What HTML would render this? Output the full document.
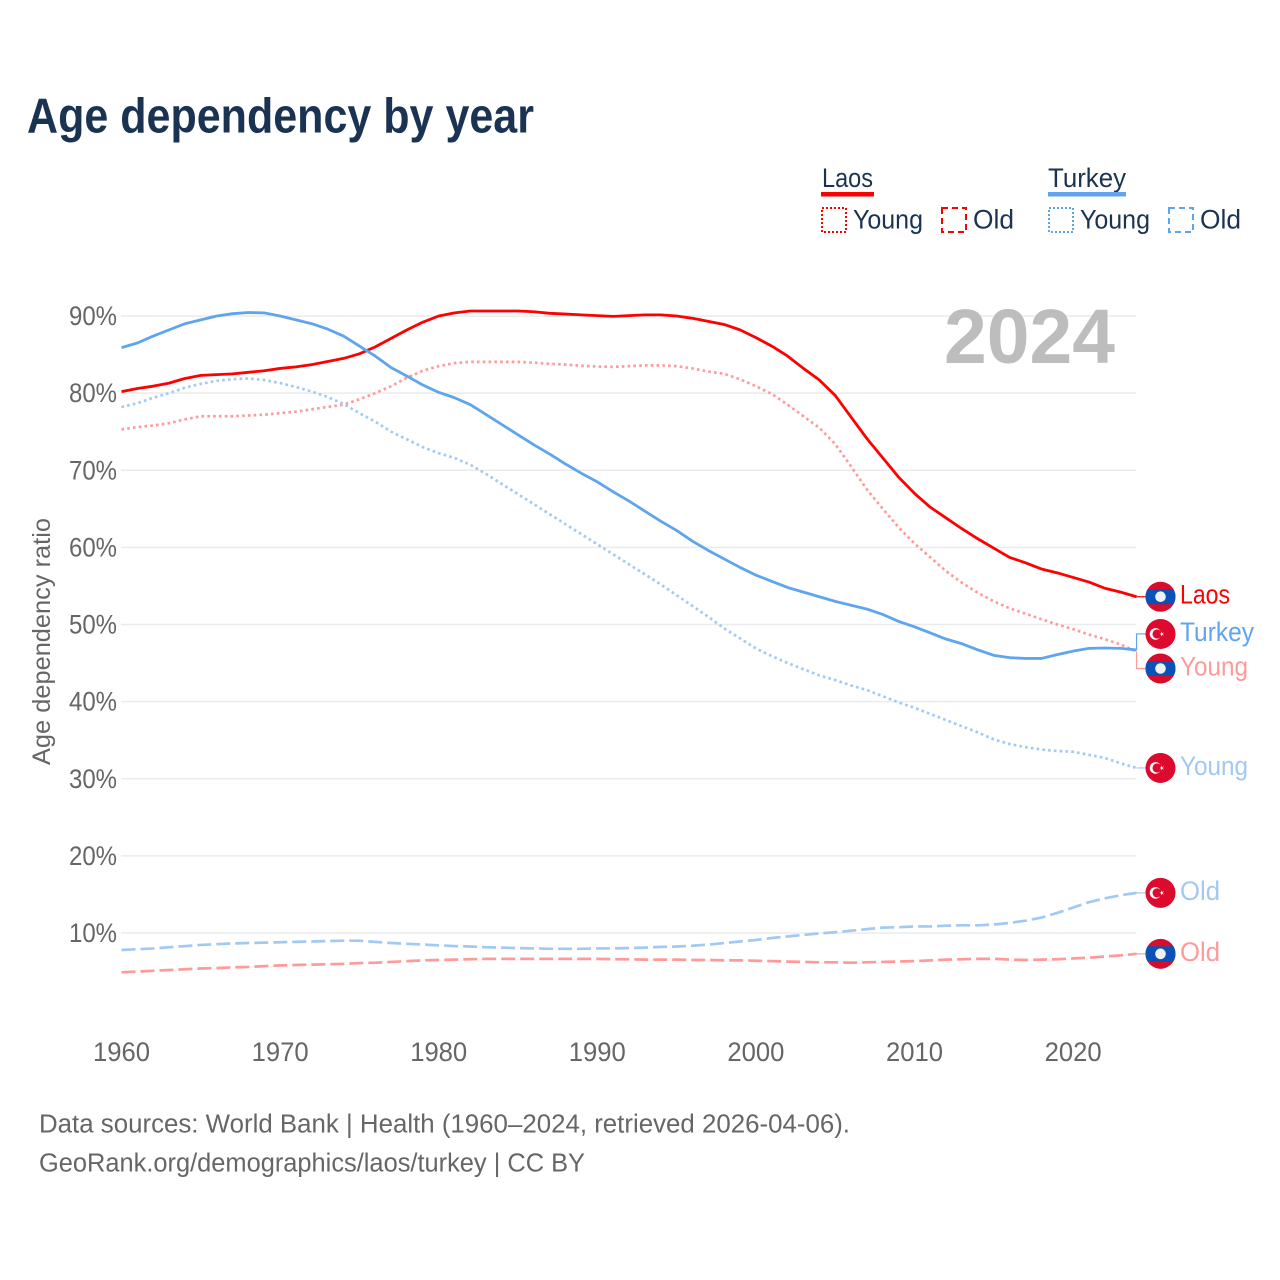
<!DOCTYPE html>
<html lang="en">
<head>
<meta charset="utf-8">
<title>Age dependency by year</title>
<style>
html,body{margin:0;padding:0;background:#fff;}
svg{display:block;font-family:"Liberation Sans",Arial,sans-serif;}
</style>
</head>
<body>
<svg id="chart" xmlns="http://www.w3.org/2000/svg" width="1280" height="1280" viewBox="0 0 1280 1280">
  <rect x="0" y="0" width="1280" height="1280" fill="#ffffff"/>
  <text x="27" y="132.5" font-size="49" font-weight="700" fill="#1a3352" textLength="507" lengthAdjust="spacingAndGlyphs">Age dependency by year</text>

  <g id="grid"></g>
  <text x="944" y="363" font-size="77" font-weight="700" fill="#bdbdbd" textLength="171" lengthAdjust="spacingAndGlyphs">2024</text>
  <g id="yticks"></g>
  <g id="xticks"></g>
  <text transform="translate(50 765) rotate(-90)" font-size="25" fill="#666666" textLength="247" lengthAdjust="spacingAndGlyphs">Age dependency ratio</text>

  <g id="series"></g>
  <g id="endlabels"></g>

  <g fill="#1a3352" font-size="26.5">
    <g>
      <text x="822" y="187" textLength="51" lengthAdjust="spacingAndGlyphs">Laos</text>
      <rect x="821" y="192" width="53" height="4.5" fill="#ff0000"/>
      <rect x="822" y="208" width="24" height="24" fill="none" stroke="#ff0000" stroke-width="2" stroke-dasharray="2 2"/>
      <text x="853" y="228.5" textLength="70" lengthAdjust="spacingAndGlyphs">Young</text>
      <rect x="942" y="208" width="24" height="24" fill="none" stroke="#ff0000" stroke-width="2" stroke-dasharray="6 4"/>
      <text x="973" y="228.5" textLength="41" lengthAdjust="spacingAndGlyphs">Old</text>
    </g>
    <g>
      <text x="1048" y="187" textLength="78" lengthAdjust="spacingAndGlyphs">Turkey</text>
      <rect x="1048" y="192" width="78" height="4.5" fill="#5fa5ee"/>
      <rect x="1049" y="208" width="24" height="24" fill="none" stroke="#5fa5ee" stroke-width="2" stroke-dasharray="2 2"/>
      <text x="1080" y="228.5" textLength="70" lengthAdjust="spacingAndGlyphs">Young</text>
      <rect x="1169" y="208" width="24" height="24" fill="none" stroke="#5fa5ee" stroke-width="2" stroke-dasharray="6 4"/>
      <text x="1200" y="228.5" textLength="41" lengthAdjust="spacingAndGlyphs">Old</text>
    </g>
  </g>

  <text x="39" y="1132.5" font-size="25.5" fill="#666666" textLength="811" lengthAdjust="spacingAndGlyphs">Data sources: World Bank | Health (1960–2024, retrieved 2026-04-06).</text>
  <text x="39" y="1171.5" font-size="25.5" fill="#666666" textLength="546" lengthAdjust="spacingAndGlyphs">GeoRank.org/demographics/laos/turkey | CC BY</text>
</svg>

<script>
const startYear = 1960;
const xTickYears = [1960, 1970, 1980, 1990, 2000, 2010, 2020];
const yTickValues = [10, 20, 30, 40, 50, 60, 70, 80, 90];

const laosTotal = [
  80.2,80.6,80.9,81.3,81.9,82.3,82.4,82.5,82.7,82.9,
  83.2,83.4,83.7,84.1,84.5,85.1,86.0,87.1,88.2,89.2,
  90.0,90.4,90.65,90.65,90.65,90.65,90.55,90.35,90.25,90.15,
  90.05,89.95,90.05,90.15,90.15,90.0,89.7,89.3,88.9,88.2,
  87.2,86.1,84.8,83.2,81.7,79.7,76.9,74.1,71.6,69.1,
  67.0,65.2,63.8,62.4,61.1,59.9,58.7,58.0,57.2,56.7,
  56.1,55.5,54.7,54.2,53.6];
const laosYoung = [
  75.3,75.6,75.8,76.1,76.6,77.0,77.0,77.0,77.1,77.2,
  77.4,77.6,77.9,78.2,78.5,79.2,80.0,80.9,82.0,82.9,
  83.5,83.9,84.05,84.05,84.05,84.05,83.95,83.8,83.7,83.55,
  83.45,83.4,83.5,83.6,83.6,83.5,83.2,82.8,82.5,81.8,
  80.9,79.9,78.5,77.0,75.5,73.4,70.5,67.5,65.0,62.6,
  60.5,58.7,56.9,55.4,54.1,53.0,52.1,51.4,50.7,50.0,
  49.4,48.7,48.1,47.4,46.5];
const laosOld = [
  4.9,5.0,5.1,5.2,5.3,5.4,5.45,5.55,5.6,5.7,
  5.8,5.85,5.9,5.95,6.0,6.1,6.15,6.25,6.35,6.45,
  6.5,6.55,6.6,6.65,6.65,6.65,6.65,6.65,6.65,6.65,
  6.65,6.6,6.6,6.55,6.55,6.55,6.5,6.5,6.45,6.45,
  6.4,6.35,6.3,6.25,6.2,6.2,6.15,6.2,6.25,6.3,
  6.35,6.45,6.55,6.6,6.65,6.65,6.55,6.5,6.55,6.6,
  6.7,6.8,6.95,7.1,7.3];
const turkeyTotal = [
  85.9,86.5,87.4,88.2,89.0,89.5,90.0,90.3,90.45,90.4,
  90.0,89.5,89.0,88.3,87.4,86.1,84.8,83.3,82.2,81.05,
  80.1,79.4,78.5,77.2,75.9,74.6,73.3,72.1,70.8,69.6,
  68.5,67.2,66.0,64.7,63.4,62.2,60.8,59.6,58.5,57.4,
  56.4,55.6,54.8,54.2,53.6,53.0,52.5,52.0,51.3,50.4,
  49.7,48.9,48.1,47.5,46.7,46.0,45.7,45.6,45.6,46.1,
  46.55,46.9,46.95,46.9,46.7];
const turkeyYoung = [
  78.2,78.7,79.4,80.0,80.7,81.2,81.6,81.8,81.9,81.7,
  81.3,80.8,80.2,79.5,78.6,77.4,76.3,75.0,74.0,73.0,
  72.2,71.6,70.7,69.5,68.2,66.9,65.6,64.3,63.0,61.7,
  60.4,59.1,57.8,56.5,55.2,53.8,52.4,51.0,49.5,48.2,
  46.9,45.9,45.0,44.2,43.4,42.8,42.1,41.5,40.7,39.9,
  39.2,38.4,37.6,36.8,36.0,35.1,34.5,34.1,33.8,33.6,
  33.5,33.1,32.7,32.0,31.4];
const turkeyOld = [
  7.8,7.9,8.0,8.15,8.3,8.45,8.55,8.65,8.7,8.75,
  8.8,8.85,8.9,8.95,9.0,9.0,8.85,8.7,8.6,8.5,
  8.4,8.3,8.25,8.15,8.1,8.05,8.0,7.95,7.95,7.95,
  8.0,8.0,8.05,8.1,8.2,8.25,8.35,8.5,8.7,8.9,
  9.1,9.35,9.55,9.75,9.95,10.1,10.3,10.5,10.7,10.75,
  10.85,10.85,10.95,11.0,11.0,11.1,11.3,11.6,12.0,12.6,
  13.3,14.0,14.5,14.9,15.2];

/* axis functions */
function xScale(year) { return 121.5 + (year - 1960) * 15.86; }
function yScale(v) { return 316 + (90 - v) * 7.7125; }

const NS = 'http://www.w3.org/2000/svg';
function make(tag, attrs, parent) {
  const el = document.createElementNS(NS, tag);
  for (const k in attrs) el.setAttribute(k, attrs[k]);
  parent.appendChild(el);
  return el;
}

const gridG = document.getElementById('grid');
const yG = document.getElementById('yticks');
const xG = document.getElementById('xticks');
const seriesG = document.getElementById('series');
const labelsG = document.getElementById('endlabels');

yTickValues.forEach(function (v) {
  const line = make('line', {x1: 121, x2: 1136, y1: yScale(v), y2: yScale(v), stroke: '#ebebeb', 'stroke-width': 1.5}, gridG);
  
  
  const t = make('text', {x: 69, y: yScale(v) + 9, 'font-size': 26.5, fill: '#666666', textLength: 48, lengthAdjust: 'spacingAndGlyphs'}, yG);
  t.textContent = v + '%';
  
  
});

xTickYears.forEach(function (yr) {
  const t = make('text', {x: xScale(yr) - 28.5, y: 1061, 'font-size': 26.5, fill: '#666666', textLength: 57, lengthAdjust: 'spacingAndGlyphs'}, xG);
  t.textContent = String(yr);
  
  
});

function drawLine(values, name, color, width, dash) {
  const d = values.map(function (v, i) {
    return (i ? 'L' : 'M') + xScale(startYear + i).toFixed(2) + ' ' + yScale(v).toFixed(2);
  }).join(' ');
  const p = make('path', {d: d, fill: 'none', stroke: color, 'stroke-width': width, 'stroke-linejoin': 'round'}, seriesG);
  if (dash) p.setAttribute('stroke-dasharray', dash);
  
  
}

const RED = '#ff0000', BLUE = '#5fa5ee', RED_SOFT = '#ff9a9a', BLUE_SOFT = '#a2c9f3';
drawLine(laosOld, 'line-laos-old', RED_SOFT, 2.7, '14 5');
drawLine(turkeyOld, 'line-turkey-old', BLUE_SOFT, 2.7, '14 5');
drawLine(laosYoung, 'line-laos-young', RED_SOFT, 2.7, '2.6 3.2');
drawLine(turkeyYoung, 'line-turkey-young', BLUE_SOFT, 2.7, '2.6 3.2');
drawLine(laosTotal, 'line-laos-total', RED, 2.8);
drawLine(turkeyTotal, 'line-turkey-total', BLUE, 2.8);

function drawFlag(group, country, cx, cy) {
  const r = 15;
  if (country === 'laos') {
    make('circle', {cx: cx, cy: cy, r: r, fill: '#d80c2b'}, group);
    const clipId = 'clip' + Math.round(cy);
    const defs = make('clipPath', {id: clipId}, group);
    make('circle', {cx: cx, cy: cy, r: r}, defs);
    make('rect', {x: cx - r, y: cy - 7.5, width: 2 * r, height: 15, fill: '#0a52b8', 'clip-path': 'url(#' + clipId + ')'}, group);
    make('circle', {cx: cx, cy: cy, r: 5.3, fill: '#f1f1f1'}, group);
  } else {
    make('circle', {cx: cx, cy: cy, r: r, fill: '#dc0a2d'}, group);
    make('circle', {cx: cx - 5, cy: cy, r: 5.8, fill: '#ffffff'}, group);
    make('circle', {cx: cx - 3.4, cy: cy, r: 4.6, fill: '#dc0a2d'}, group);
    make('path', {d: 'M' + (cx - 1) + ' ' + cy + ' l4.6 -1.6 l-1.6 1.6 l1.6 1.6 z M' + (cx + 1.5) + ' ' + (cy - 2.6) + ' l0 5.2 l-1.4 -2.6 z', fill: '#ffffff'}, group);
  }
}

function drawEndLabel(name, text, country, values, color, lineColor, dodge, textWidth) {
  const g = make('g', {}, labelsG);
  
  
  const endY = yScale(values[values.length - 1]);
  const labelY = endY + dodge;
  const xEnd = xScale(2024);
  const d = Math.abs(dodge) > 0.5
    ? 'M' + xEnd + ' ' + endY + ' L' + xEnd + ' ' + labelY + ' L1146 ' + labelY
    : 'M' + xEnd + ' ' + endY + ' L1146 ' + labelY;
  const conn = make('path', {d: d, fill: 'none', stroke: lineColor, 'stroke-width': 1.2}, g);
  
  
  const flag = make('g', {}, g);
  
  
  drawFlag(flag, country, 1160.5, labelY);
  const t = make('text', {x: 1180, y: labelY + 7, 'font-size': 26.5, fill: color, textLength: textWidth, lengthAdjust: 'spacingAndGlyphs'}, g);
  t.textContent = text;
  
  
}

drawEndLabel('end-label-laos-total', 'Laos', 'laos', laosTotal, RED, RED, 0, 50);
drawEndLabel('end-label-turkey-total', 'Turkey', 'turkey', turkeyTotal, BLUE, BLUE, -16, 74);
drawEndLabel('end-label-laos-young', 'Young', 'laos', laosYoung, RED_SOFT, RED_SOFT, 17, 68);
drawEndLabel('end-label-turkey-young', 'Young', 'turkey', turkeyYoung, BLUE_SOFT, BLUE_SOFT, 0, 68);
drawEndLabel('end-label-turkey-old', 'Old', 'turkey', turkeyOld, BLUE_SOFT, BLUE_SOFT, 0, 40);
drawEndLabel('end-label-laos-old', 'Old', 'laos', laosOld, RED_SOFT, RED_SOFT, 0, 40);
</script>
</body>
</html>
